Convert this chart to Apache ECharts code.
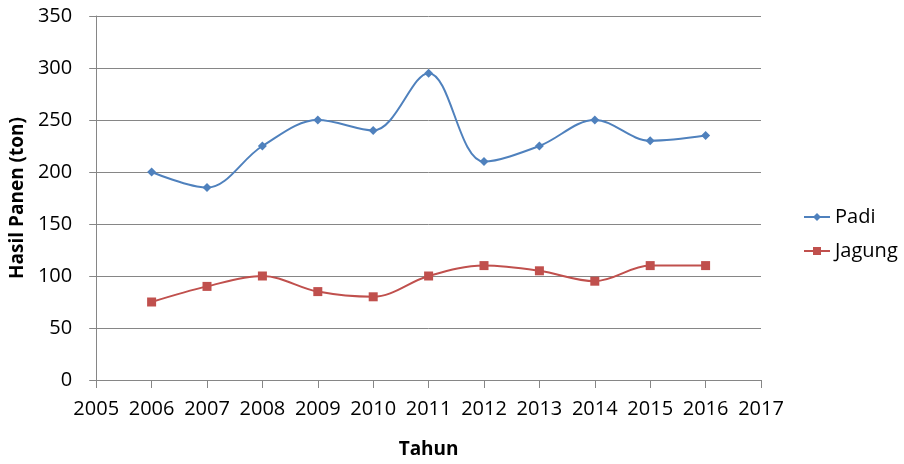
<!DOCTYPE html>
<html>
<head>
<meta charset="utf-8">
<script src="https://cdn.jsdelivr.net/npm/echarts@6/dist/echarts.min.js"></script>
<style>
  html, body { margin: 0; padding: 0; background: #fff; }
  #chart { width: 904px; height: 464px; }
</style>
</head>
<body>
<div id="chart"></div>
<script>
var years = [2006, 2007, 2008, 2009, 2010, 2011, 2012, 2013, 2014, 2015, 2016];
var padi = [200, 185, 225, 250, 240, 295, 210, 225, 250, 230, 235];
var jagung = [75, 90, 100, 85, 80, 100, 110, 105, 95, 110, 110];

function pairs(vals) {
  return years.map(function (y, i) { return [y, vals[i]]; });
}

var chart = echarts.init(document.getElementById('chart'));
var font = 'Open Sans';
var option = {
  animation: false,
  textStyle: { fontFamily: font },
  grid: { left: 95, right: 143, top: 16, bottom: 78 },
  legend: {
    orient: 'vertical',
    left: 798,
    top: 202,
    itemGap: 14,
    itemWidth: 26,
    itemHeight: 10,
    textStyle: { fontSize: 20, color: '#000', fontFamily: font },
    data: ['Padi', 'Jagung']
  },
  xAxis: {
    type: 'value',
    min: 2005,
    max: 2017,
    interval: 1,
    name: 'Tahun',
    nameLocation: 'middle',
    nameGap: 60,
    nameTextStyle: { fontSize: 19, fontWeight: 'bold', color: '#000' },
    axisLine: { lineStyle: { color: '#868686' } },
    axisTick: { length: 8, lineStyle: { color: '#868686' } },
    axisLabel: { fontSize: 20, color: '#000', margin: 19, formatter: function (v) { return String(v); } },
    splitLine: { show: false }
  },
  yAxis: {
    type: 'value',
    min: 0,
    max: 350,
    interval: 50,
    name: 'Hasil Panen (ton)',
    nameLocation: 'middle',
    nameGap: 66,
    nameTextStyle: { fontSize: 19, fontWeight: 'bold', color: '#000' },
    axisLine: { show: true, lineStyle: { color: '#868686' } },
    axisTick: { show: true, length: 7, lineStyle: { color: '#868686' } },
    axisLabel: { fontSize: 20, color: '#000', margin: 24 },
    splitLine: { lineStyle: { color: '#868686' } }
  },
  series: [{
    name: 'Padi',
    type: 'line',
    smooth: 0.35,
    data: pairs(padi),
    symbol: 'diamond',
    symbolSize: 9,
    color: '#4F81BD',
    lineStyle: { width: 2, color: '#4F81BD' },
    itemStyle: { color: '#4F81BD' }
  }, {
    name: 'Jagung',
    type: 'line',
    smooth: 0.35,
    data: pairs(jagung),
    symbol: 'rect',
    symbolSize: 9,
    color: '#C0504D',
    lineStyle: { width: 2, color: '#C0504D' },
    itemStyle: { color: '#C0504D' }
  }]
};
chart.setOption(option);
</script>
</body>
</html>
